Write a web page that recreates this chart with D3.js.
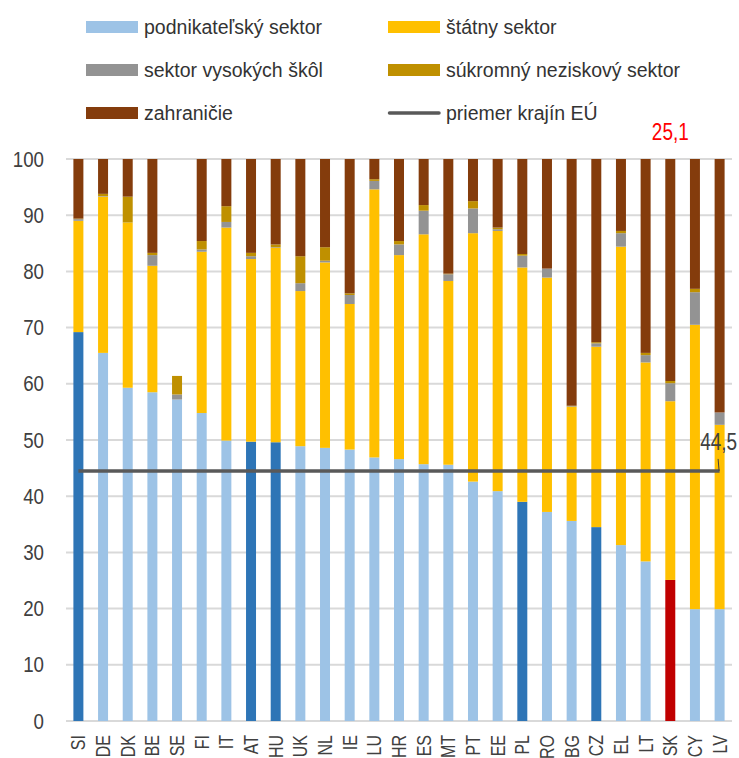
<!DOCTYPE html>
<html>
<head>
<meta charset="utf-8">
<script src="https://cdn.jsdelivr.net/npm/d3@7"></script>
<style>
  body { margin: 0; background: #fff; }
  text { font-family: "Liberation Sans", Arial, sans-serif; fill: #404040; }
</style>
</head>
<body>
<svg id="chart" width="739" height="758"></svg>
<script>
// countries, sorted by share of business sector
const countries = ['SI', 'DE', 'DK', 'BE', 'SE', 'FI', 'IT', 'AT', 'HU', 'UK', 'NL', 'IE', 'LU', 'HR', 'ES',
    'MT', 'PT', 'EE', 'PL', 'RO', 'BG', 'CZ', 'EL', 'LT', 'SK', 'CY', 'LV'];

const business = [69.2, 65.5, 59.3, 58.5, 57.2, 54.8, 49.9, 49.7, 49.6, 48.9, 48.6, 48.3, 46.9, 46.6, 45.7,
    45.6, 42.6, 40.9, 39.0, 37.2, 35.6, 34.5, 31.3, 28.4, 25.1, 19.9, 19.9];
const government = [19.8, 27.8, 29.4, 22.5, 0, 28.7, 37.9, 32.5, 34.6, 27.6, 33.0, 25.9, 47.7, 36.3, 40.9,
    32.7, 44.2, 46.3, 41.7, 41.7, 20.3, 32.1, 53.1, 35.4, 31.8, 50.6, 32.8];
const higherEd = [0.3, 0.1, 0, 1.9, 0.9, 0.4, 1.0, 0.5, 0.1, 1.4, 0.3, 1.6, 1.5, 1.9, 4.2,
    1.2, 4.4, 0.3, 2.1, 1.6, 0.1, 0.6, 2.4, 1.3, 3.2, 5.8, 2.2];
const privateNonProfit = [0.1, 0.4, 4.6, 0.4, 3.3, 1.5, 2.8, 0.6, 0.5, 4.8, 2.4, 0.3, 0.3, 0.6, 1.0,
    0.1, 1.3, 0.3, 0.3, 0, 0.1, 0.2, 0.4, 0.4, 0.4, 0.6, 0];
const abroad = [10.6, 6.2, 6.7, 16.7, 0, 14.6, 8.4, 16.7, 15.2, 17.3, 15.7, 23.9, 3.6, 14.6, 8.2,
    20.4, 7.5, 12.2, 16.9, 19.5, 43.9, 32.6, 12.8, 34.5, 39.5, 23.1, 45.1];

const euAverage = 44.5;
const highlighted = ['SI', 'AT', 'HU', 'PL', 'CZ'];
const home = 'SK';

const yTicks = [0, 10, 20, 30, 40, 50, 60, 70, 80, 90, 100];

const keys = ['business', 'government', 'higherEd', 'privateNonProfit', 'abroad'];
const labels = ['podnikateľský sektor', 'štátny sektor', 'sektor vysokých škôl', 'súkromný neziskový sektor', 'zahraničie'];
const colors = ['#9DC3E6', '#FFC000', '#939393', '#BF9000', '#843C0C'];

const svg = d3.select('#chart');

const x = d3.scaleBand()
    .domain(countries)
    .range([66, 732])
    .paddingInner(0.595)
    .paddingOuter(0.3);

const y = d3.scaleLinear()
    .domain([0, 100])
    .range([721, 159]);

// table for the stack
const rows = countries.map((c, i) => ({
    country: c,
    business: business[i],
    government: government[i],
    higherEd: higherEd[i],
    privateNonProfit: privateNonProfit[i],
    abroad: abroad[i]
}));

const series = d3.stack().keys(keys)(rows);

// numbers in the chart look a bit condensed
const narrow = (sel, sx) => sel.attr('transform', function () {
    const t = this.getAttribute('transform') || '';
    return t + ` scale(${sx},1)`;
});

// gridlines
svg.append('g')
    .selectAll('line')
    .data(yTicks)
    .enter().append('line')
    .attr('x1', 66)
    .attr('x2', 732)
    .attr('y1', d => y(d))
    .attr('y2', d => y(d))
    .attr('stroke', '#d9d9d9')
    .attr('stroke-width', 2);

// y axis labels
const yAxis = svg.append('g')
    .attr('transform', 'translate(44,0)')
    .call(d3.axisLeft(y).tickValues(yTicks).tickSize(0).tickPadding(0));
yAxis.select('.domain').remove();
yAxis.selectAll('text')
    .style('font-size', '22px')
    .attr('fill', '#404040')
    .call(narrow, 0.85);

// stacked bars
svg.append('g')
    .selectAll('g')
    .data(series)
    .enter().append('g')
    .attr('fill', (d, i) => colors[i])
    .selectAll('rect')
    .data(d => d.map(p => Object.assign(p, { key: d.key })))
    .enter().append('rect')
    .attr('x', d => x(d.data.country))
    .attr('width', x.bandwidth())
    .attr('y', d => y(d[1]))
    .attr('height', d => y(d[0]) - y(d[1]))
    .style('fill', d => {
        if (d.key !== 'business') return null;
        if (d.data.country === home) return '#C00000';
        if (highlighted.includes(d.data.country)) return '#2E75B6';
        return null;
    });

// EU average line
const first = countries[0], last = countries[countries.length - 1];
const xc = c => x(c) + x.bandwidth() / 2;
svg.append('line')
    .attr('x1', xc(first))
    .attr('x2', xc(last))
    .attr('y1', y(euAverage))
    .attr('y2', y(euAverage))
    .attr('stroke', '#595959')
    .attr('stroke-width', 3.5);

svg.append('line')
    .attr('x1', xc(last) - 1.5)
    .attr('x2', xc(last) - 0.5)
    .attr('y1', y(euAverage) - 12)
    .attr('y2', y(euAverage))
    .attr('stroke', '#404040')
    .attr('stroke-width', 1);

svg.append('text')
    .attr('transform', `translate(${xc(last) - 1},${y(euAverage) - 21})`)
    .attr('text-anchor', 'middle')
    .style('font-size', '24px')
    .text(String(euAverage).replace('.', ','))
    .call(narrow, 0.79);

// value for Slovakia
const skIndex = countries.indexOf(home);
svg.append('text')
    .attr('transform', `translate(${xc(home)},140)`)
    .attr('text-anchor', 'middle')
    .style('font-size', '24px')
    .style('fill', '#FF0000')
    .text(String(business[skIndex]).replace('.', ','))
    .call(narrow, 0.79);

// x axis labels
svg.append('g')
    .selectAll('text')
    .data(countries)
    .enter().append('text')
    .attr('transform', d => `translate(${xc(d) + 7},735) rotate(-90)`)
    .attr('text-anchor', 'end')
    .style('font-size', '20px')
    .text(d => d)
    .call(narrow, 0.8);

// legend
const legendItems = [
    { label: labels[0], color: colors[0], x: 86, y: 27 },
    { label: labels[1], color: colors[1], x: 388, y: 27 },
    { label: labels[2], color: colors[2], x: 86, y: 70 },
    { label: labels[3], color: colors[3], x: 388, y: 70 },
    { label: labels[4], color: colors[4], x: 86, y: 113 },
    { label: 'priemer krajín EÚ', color: '#595959', x: 388, y: 113, line: true }
];

const legend = svg.append('g')
    .selectAll('g')
    .data(legendItems)
    .enter().append('g')
    .attr('transform', d => `translate(${d.x},${d.y})`);

legend.filter(d => !d.line).append('rect')
    .attr('x', 0)
    .attr('y', -6)
    .attr('width', 52)
    .attr('height', 12)
    .attr('fill', d => d.color);

legend.filter(d => d.line).append('line')
    .attr('x1', 1.5)
    .attr('x2', 51)
    .attr('y1', 0)
    .attr('y2', 0)
    .attr('stroke', d => d.color)
    .attr('stroke-width', 3.5)
    .attr('stroke-linecap', 'round');

legend.append('text')
    .attr('x', 58)
    .attr('y', 7)
    .style('font-size', '19.5px')
    .style('fill', '#333')
    .text(d => d.label);
</script>
</body>
</html>
